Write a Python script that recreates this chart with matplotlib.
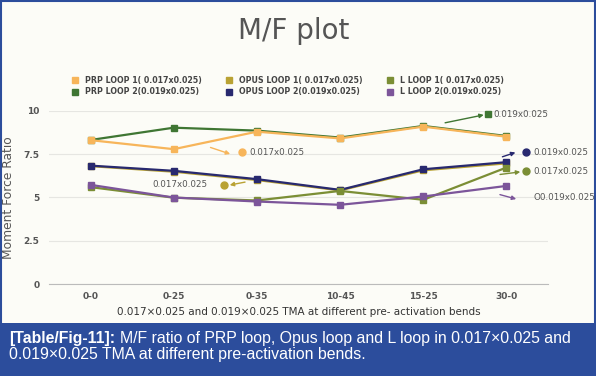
import numpy as np
import matplotlib.pyplot as plt
from matplotlib.lines import Line2D
from matplotlib.patches import Rectangle

bends = ["0-0", "0-25", "0-35", "10-45", "15-25", "30-0"]

prp1 = [8.30, 7.78, 8.79, 8.40, 9.08, 8.50]
prp2 = [8.31, 9.02, 8.85, 8.45, 9.12, 8.54]
opus1 = [6.80, 6.48, 6.00, 5.40, 6.56, 6.96]
opus2 = [6.83, 6.53, 6.05, 5.43, 6.62, 7.03]
l1 = [5.59, 4.98, 4.82, 5.37, 4.86, 6.72]
l2 = [5.72, 4.99, 4.76, 4.57, 5.05, 5.66]

labels = ["PRP LOOP 1( 0.017x0.025)", "PRP LOOP 2(0.019x0.025)",
          "OPUS LOOP 1( 0.017x0.025)", "OPUS LOOP 2(0.019x0.025)",
          "L LOOP 1( 0.017x0.025)", "L LOOP 2(0.019x0.025)"]
series = [prp1, prp2, opus1, opus2, l1, l2]
colors = ["#F7B55A", "#3F7633", "#B9A233", "#28296F", "#7B8E35", "#7C559A"]
# draw order: back to front
order = [1, 0, 2, 3, 4, 5]

BG = "#FCFCF7"
fig = plt.figure(figsize=(5.96, 3.76), dpi=100, facecolor=BG)
ax = fig.add_axes([49/596, 1-284/376, (548-49)/596, (284-110.7)/376])
ax.set_facecolor(BG)

x = np.arange(len(bends))
for i in order:
    ax.plot(x, series[i], "-s", color=colors[i], lw=1.6, ms=4, zorder=3)

ax.set_xlim(-0.5, 5.5)
ax.set_ylim(0, 10)
ax.set_yticks([0, 2.5, 5, 7.5, 10])
ax.set_yticklabels(["0", "2.5", "5", "7.5", "10"])
ax.set_xticks(x)
ax.set_xticklabels(bends)
ax.grid(axis="y", color="#E6E6E2", lw=0.8)
ax.set_axisbelow(True)
for s in ["top", "right", "left"]:
    ax.spines[s].set_visible(False)
ax.spines["bottom"].set_color("#BBBBBB")
ax.tick_params(axis="y", length=0, labelsize=6.5, labelcolor="#555555", pad=7)
ax.tick_params(axis="x", length=0, labelsize=6.5, labelcolor="#555555", pad=6)
for t in ax.get_xticklabels() + ax.get_yticklabels():
    t.set_fontweight("bold")
ax.set_ylabel("Moment Force Ratio", fontsize=8.8, color="#555555")
ax.yaxis.set_label_coords(-(49-15)/499, 0.5)
ax.set_xlabel("0.017×0.025 and 0.019×0.025 TMA at different pre- activation bends",
              fontsize=7.5, color="#333333", labelpad=4)

# annotations
def note(xy_from, xy_to, dot, text, c, mk="o", ha="left", tx=None):
    ax.annotate("", xy=xy_to, xytext=xy_from,
                arrowprops=dict(arrowstyle="-|>", color=c, lw=1.0, mutation_scale=6),
                annotation_clip=False)
    if dot is not None:
        ax.plot([dot[0]], [dot[1]], marker=mk, color=c, ms=5, clip_on=False)
    ax.text(tx[0], tx[1], text, fontsize=6.3, color="#555555", ha=ha, va="center",
            clip_on=False)

note((1.41, 7.93), (1.71, 7.45), (1.82, 7.60), "0.017x0.025", colors[0], tx=(1.91, 7.60))
note((1.89, 5.91), (1.64, 5.68), (1.60, 5.70), "0.017x0.025", colors[2], ha="right", tx=(1.41, 5.72))
note((4.23, 9.27), (4.76, 9.79), (4.78, 9.79), "0.019x0.025", colors[1], mk="s", tx=(4.84, 9.79))
note((4.92, 7.29), (5.14, 7.64), (5.24, 7.60), "0.019x0.025", colors[3], tx=(5.32, 7.60))
note((4.89, 6.30), (5.20, 6.49), (5.24, 6.51), "0.017x0.025", colors[4], tx=(5.32, 6.51))
note((4.89, 5.20), (5.15, 4.86), None, "O0.019x0.025", colors[5], tx=(5.32, 4.99))

fig.text(0.493, 1-31/376, "M/F plot", fontsize=20, color="#555555", ha="center", va="center")

handles = [Line2D([], [], marker="s", ls="", color=c, ms=4.5) for c in colors]
leg = fig.legend(handles, labels, ncol=3, loc="center", bbox_to_anchor=(288/596, 1-86/376),
                 frameon=False, fontsize=5.7, handletextpad=0.9, columnspacing=3.0,
                 labelspacing=0.35, handlelength=0.8)
for t in leg.get_texts():
    t.set_fontweight("bold")
    t.set_color("#444444")

# caption band and border
fig.patches.append(Rectangle((0, 0), 1, 1-323/376, transform=fig.transFigure,
                             facecolor="#2C4D9C", edgecolor="none", zorder=0))
fig.patches.append(Rectangle((0.002, 0.003), 0.996, 0.994, transform=fig.transFigure,
                             facecolor="none", edgecolor="#2C4D9C", lw=1.5, zorder=5))
cap_kw = dict(fontsize=11.4, color="white", va="center", family="Liberation Sans")
head = fig.text(9/596, 1-339/376, "[Table/Fig-11]:", fontweight="bold", **cap_kw)
fig.canvas.draw()
bb = head.get_window_extent()
fig.text(bb.x1/596 + 5/596, 1-339/376,
         "M/F ratio of PRP loop, Opus loop and L loop in 0.017×0.025 and", **cap_kw)
fig.text(9/596, 1-355/376, "0.019×0.025 TMA at different pre-activation bends.", **cap_kw)

fig.savefig("out.png", dpi=100, facecolor=BG)
